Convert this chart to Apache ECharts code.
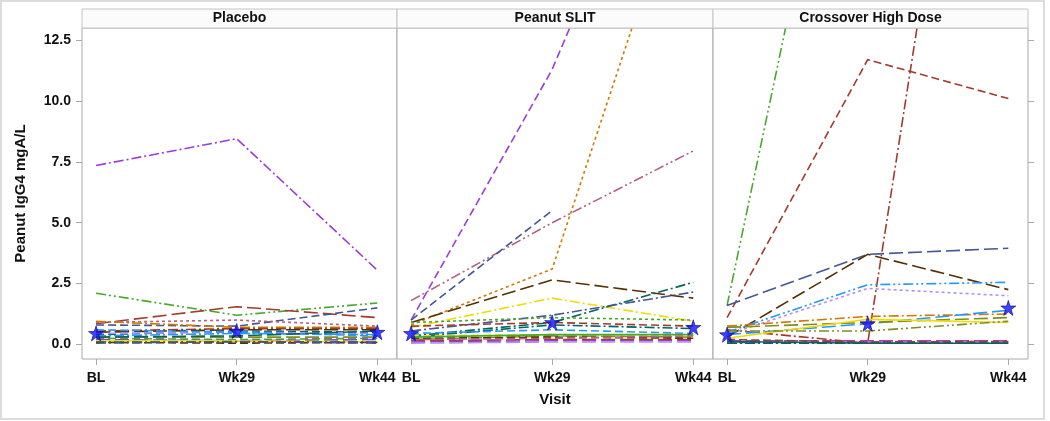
<!DOCTYPE html>
<html>
<head>
<meta charset="utf-8">
<script src="https://cdn.jsdelivr.net/npm/echarts@6/dist/echarts.min.js"></script>
<style>
html,body{margin:0;padding:0;background:#fff;}
#c{width:1050px;height:421px;}
</style>
</head>
<body>
<div id="c"></div>
<script>
// ---------------- DATA ----------------
const visits = ['BL', 'Wk29', 'Wk44'];
const panelTitles = ['Placebo', 'Peanut SLIT', 'Crossover High Dose'];
const yTicks = [0, 2.5, 5, 7.5, 10, 12.5];

// each row: one subject, values at BL, Wk29, Wk44 (mgA/L)
const placeboSubjects = [
  [7.35, 8.45, 3.05],
  [2.1, 1.2, 1.7],
  [0.85, 1.55, 1.1],
  [0.8, 0.75, 1.5],
  [0.9, 1.0, 0.75],
  [0.95, 0.7, 0.7],
  [0.55, 0.65, 0.65],
  [0.5, 0.6, 0.6],
  [0.4, 0.55, 0.5],
  [0.45, 0.5, 0.45],
  [0.35, 0.45, 0.4],
  [0.3, 0.3, 0.3],
  [0.25, 0.2, 0.25],
  [0.2, 0.15, 0.2],
  [0.15, 0.15, 0.1],
  [0.1, 0.1, 0.1],
  [0.08, 0.05, 0.08],
  [0.6, 0.5, 0.35],
  [0.3, 0.35, 0.55],
  [0.05, 0.12, 0.05]
];
const placeboMedian = [0.45, 0.55, 0.5];

const slitSubjects = [
  [1.0, 11.3, 25],
  [0.8, 3.1, 20.6],
  [1.8, 5.0, 7.95],
  [1.0, 5.5, null],
  [0.9, 2.65, 1.9],
  [0.7, 1.9, 0.95],
  [0.35, 0.9, 2.55],
  [0.55, 1.2, 2.15],
  [0.9, 1.1, 1.0],
  [0.75, 0.9, 0.75],
  [0.3, 0.8, 0.65],
  [0.45, 0.6, 0.45],
  [0.35, 0.4, 0.35],
  [0.2, 0.35, 0.3],
  [0.25, 0.3, 0.25],
  [0.15, 0.2, 0.2],
  [0.1, 0.15, 0.15],
  [0.05, 0.1, 0.1],
  [0.3, 0.4, 0.4],
  [0.2, 0.25, 0.35]
];
const slitMedian = [0.45, 0.9, 0.7];

const crossSubjects = [
  [1.6, 29, 30],
  [1.1, 11.7, 10.1],
  [0.6, 0.05, 37],
  [1.6, 3.7, 3.95],
  [0.3, 3.7, 2.25],
  [0.5, 2.45, 2.55],
  [0.4, 2.3, 2.0],
  [0.75, 1.15, 1.25],
  [0.4, 0.85, 1.4],
  [0.7, 0.9, 1.1],
  [0.25, 1.03, 0.9],
  [0.55, 0.55, 0.95],
  [0.15, 0.15, 0.15],
  [0.1, 0.1, 0.1],
  [0.05, 0.05, 0.05],
  [0.08, 0.08, 0.08],
  [0.2, 0.1, 0.12],
  [0.12, 0.05, 0.05]
];
const crossMedian = [0.4, 0.85, 1.5];

// ---------------- STYLES ----------------
const C = {
  slate: '#445694', red: '#A23A2E', teal: '#01665E', brown: '#543005',
  purple: '#9D3CDB', olive: '#7F8E1F', lblue: '#2597FA', mauve: '#B26084',
  orange: '#D17800', green: '#47A82A', lav: '#B38EF3', yellow: '#F2DB00'
};
const D = {
  solid: 'solid', dash: [8, 4], long: [14, 5], dot: [3, 3],
  dd: [10, 3, 2, 3], ddd: [10, 3, 2, 3, 2, 3]
};
const placeboStyles = [
  ['purple','dd'],['green','ddd'],['red','long'],['slate','dash'],['mauve','dot'],
  ['orange','dd'],['red','dd'],['brown','long'],['teal','dash'],['lav','dash'],
  ['lblue','dd'],['olive','long'],['green','dash'],['purple','long'],['yellow','solid'],
  ['teal','dd'],['brown','dash'],['lblue','dash'],['teal','long'],['slate','dd']
];
const slitStyles = [
  ['purple','dash'],['orange','dot'],['mauve','ddd'],['slate','dash'],['brown','long'],
  ['yellow','dd'],['teal','dd'],['slate','dd'],['green','dot'],['red','dash'],
  ['teal','dd'],['lblue','dash'],['yellow','dash'],['olive','long'],['brown','dash'],
  ['red','long'],['purple','long'],['lav','long'],['green','solid'],['mauve','dash']
];
const crossStyles = [
  ['green','ddd'],['red','dash'],['red','dd'],['slate','long'],['brown','long'],
  ['lblue','ddd'],['lav','dot'],['orange','dd'],['lblue','long'],['olive','long'],
  ['yellow','solid'],['olive','ddd'],['purple','long'],['mauve','long'],['teal','dd'],
  ['slate','dash'],['red','dash'],['teal','solid']
];

const panels = [
  {subjects: placeboSubjects, median: placeboMedian, styles: placeboStyles},
  {subjects: slitSubjects, median: slitMedian, styles: slitStyles},
  {subjects: crossSubjects, median: crossMedian, styles: crossStyles}
];

// ---------------- LAYOUT ----------------
const gridBoxes = [
  {left: 82, width: 315},
  {left: 397, width: 316},
  {left: 713, width: 315}
];
const gridTop = 28, gridHeight = 331;
const FONT = 'Liberation Sans, Arial, sans-serif';
const borderCol = '#a9a9a9';

const grid = [], xAxis = [], yAxis = [], series = [], graphic = [];

gridBoxes.forEach((g, i) => {
  grid.push({left: g.left, top: gridTop, width: g.width, height: gridHeight,
    show: true, borderColor: borderCol, borderWidth: 1, backgroundColor: '#fff'});
  xAxis.push({
    type: 'value', gridIndex: i, min: -0.1, max: 2.14,
    splitLine: {show: false}, axisLine: {show: false, onZero: false},
    axisTick: {show: true, length: 6, lineStyle: {color: borderCol}, customValues: [0, 1, 2]},
    axisLabel: {show: true, customValues: [0, 1, 2], margin: 12,
      formatter: v => visits[Math.round(v)] || '',
      fontFamily: FONT, fontWeight: 'bold', fontSize: 14, color: '#111'}
  });
  yAxis.push({
    type: 'value', gridIndex: i, min: -0.6, max: 13.0,
    splitLine: {show: false}, axisLine: {show: false, onZero: false},
    axisTick: {show: i === 0, length: 6, lineStyle: {color: borderCol}, customValues: yTicks},
    axisLabel: {show: i === 0, customValues: yTicks, margin: 11,
      formatter: v => v.toFixed(1),
      fontFamily: FONT, fontWeight: 'bold', fontSize: 14, color: '#111'},
    name: i === 0 ? 'Peanut IgG4 mgA/L' : '',
    nameLocation: 'middle', nameGap: 54,
    nameTextStyle: {fontFamily: FONT, fontWeight: 'bold', fontSize: 15, color: '#111'}
  });
});
// right-side ticks on last panel
yAxis.push({
  type: 'value', gridIndex: 2, position: 'right', min: -0.6, max: 13.0,
  splitLine: {show: false}, axisLine: {show: false, onZero: false},
  axisTick: {show: true, length: 6, lineStyle: {color: borderCol}, customValues: yTicks},
  axisLabel: {show: false}
});

panels.forEach((p, i) => {
  p.subjects.forEach((vals, k) => {
    const st = p.styles[k % p.styles.length];
    series.push({
      type: 'line', xAxisIndex: i, yAxisIndex: i, silent: true,
      symbol: 'none', clip: true, connectNulls: false,
      data: vals.map((v, j) => [j, v]),
      lineStyle: {color: C[st[0]], width: 1.6, type: D[st[1]]},
      z: 2
    });
  });
  series.push({
    type: 'scatter', xAxisIndex: i, yAxisIndex: i, silent: true,
    symbol: 'path://M50,0 L61.8,35.4 L100,35.4 L69.1,57.3 L80.9,94.1 L50,71.7 L19.1,94.1 L30.9,57.3 L0,35.4 L38.2,35.4 Z',
    symbolSize: 15,
    data: p.median.map((v, j) => [j, v]),
    itemStyle: {color: '#1010ff', borderColor: '#0a0a80', borderWidth: 0.8},
    z: 10
  });

  const g = gridBoxes[i];
  graphic.push({
    type: 'rect', shape: {x: g.left, y: 9, width: g.width, height: 19},
    style: {fill: '#fbfbfb', stroke: '#c4c4c4', lineWidth: 1}, z: 5
  });
  graphic.push({
    type: 'text', x: g.left + g.width / 2, y: 18.5,
    style: {text: panelTitles[i], font: 'bold 14px ' + FONT, fill: '#111',
      textAlign: 'center', textVerticalAlign: 'middle'}, z: 6
  });
});

graphic.push({
  type: 'text', x: 555, y: 400,
  style: {text: 'Visit', font: 'bold 15px ' + FONT, fill: '#111',
    textAlign: 'center', textVerticalAlign: 'middle'}, z: 6
});
graphic.push({
  type: 'rect', shape: {x: 1, y: 1, width: 1043, height: 418},
  style: {fill: 'none', stroke: '#dcdcdc', lineWidth: 2}, z: 0, silent: true
});

const chart = echarts.init(document.getElementById('c'), null, {renderer: 'canvas'});
chart.setOption({
  animation: false,
  backgroundColor: '#fff',
  grid, xAxis, yAxis, series, graphic
});
</script>
</body>
</html>
